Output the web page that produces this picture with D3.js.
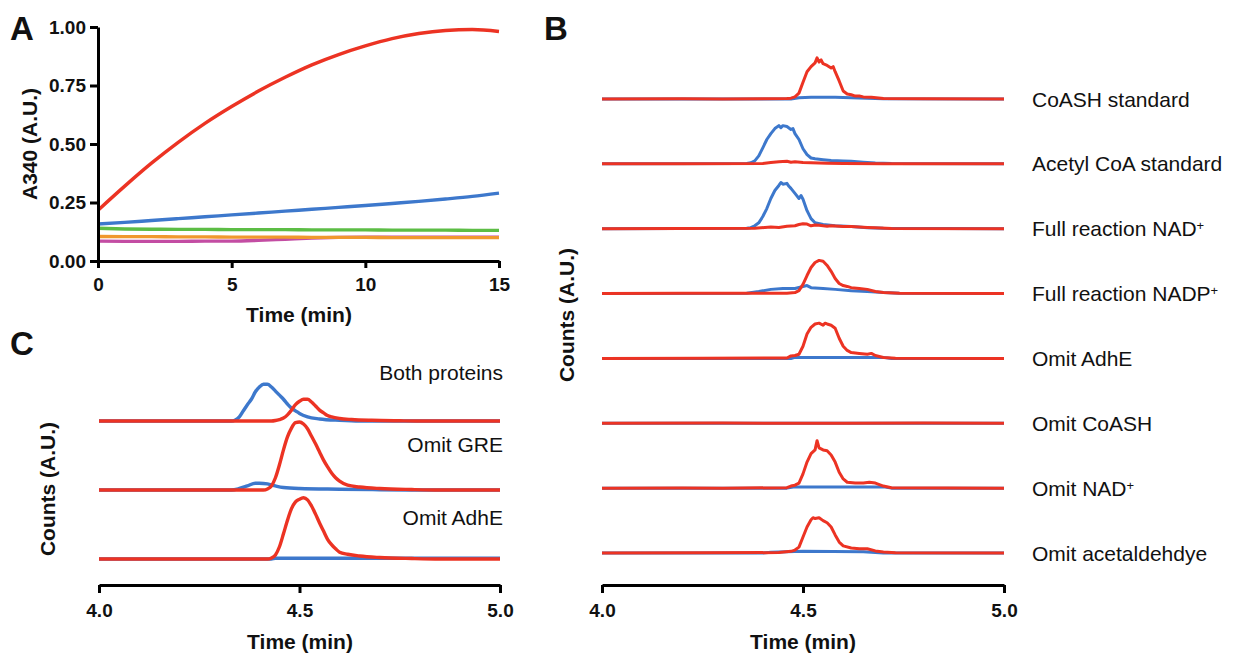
<!DOCTYPE html>
<html>
<head>
<meta charset="utf-8">
<script src="https://cdn.jsdelivr.net/npm/d3@7"></script>
<style>
body { margin: 0; background: #fff; }
text { font-family: "Liberation Sans", Arial, Helvetica, sans-serif; fill: #111; }
.axis path, .axis line { stroke: #000; stroke-width: 3; }
.axis text { font-size: 19px; font-weight: bold; font-family: "Liberation Sans", Arial, sans-serif; fill: #111; }
.title { font-size: 21px; font-weight: bold; }
.panel { font-size: 33px; font-weight: bold; }
.rowlabel { font-size: 21px; }
.trace { fill: none; stroke-linejoin: round; }
</style>
</head>
<body>
<svg id="fig" width="1239" height="660"></svg>
<script>

// ---- panel A : A340 over time
var timeA   = [0, 1, 2, 3, 4, 5, 6, 7, 8, 9, 10, 11, 12, 13, 14, 15];
var a340Red = [0.217, 0.32, 0.418, 0.507, 0.588, 0.66, 0.726, 0.785, 0.838, 0.882, 0.919, 0.95, 0.972, 0.985, 0.989, 0.981];
var a340Blue = [0.158, 0.165, 0.173, 0.181, 0.189, 0.197, 0.205, 0.213, 0.221, 0.229, 0.237, 0.246, 0.255, 0.265, 0.276, 0.29];
var a340Green = [0.14, 0.137, 0.136, 0.135, 0.135, 0.134, 0.134, 0.134, 0.133, 0.133, 0.133, 0.132, 0.132, 0.132, 0.131, 0.131];
var a340Orange = [0.105, 0.104, 0.104, 0.103, 0.103, 0.102, 0.102, 0.102, 0.101, 0.101, 0.101, 0.1, 0.1, 0.1, 0.1, 0.1];
var a340Pink = [0.085, 0.084, 0.084, 0.084, 0.085, 0.085, 0.088, 0.093, 0.098, 0.101, 0.102, 0.102, 0.102, 0.102, 0.102, 0.102];
var yTicksA = [0, 0.25, 0.5, 0.75, 1.0];
var xTicksA = [0, 5, 10, 15];

// ---- panel B : chromatograms [time, counts]
var bLabelText = ["CoASH standard", "Acetyl CoA standard", "Full reaction NAD", "Full reaction NADP",
                  "Omit AdhE", "Omit CoASH", "Omit NAD", "Omit acetaldehdye"];
var bLabelSup  = ["", "", "+", "+", "", "", "+", ""];

var bRed = [
  [[4.0,0],[4.2,0.5],[4.3,0],[4.46,1],[4.47,2],[4.48,5],[4.49,14],[4.5,40],[4.51,65],[4.52,77],[4.53,86],[4.535,98],[4.54,88],[4.545,93],[4.55,84],[4.56,80],[4.57,74],[4.575,77],[4.58,65],[4.59,43],[4.6,19],[4.61,12],[4.62,10],[4.63,7],[4.64,7],[4.65,5],[4.67,4],[4.7,1],[4.8,0.5],[5.0,0]],
  [[4.0,0],[4.2,0.5],[4.4,1],[4.42,3],[4.44,5],[4.46,6],[4.47,4],[4.48,5],[4.5,3],[4.52,2.4],[4.56,1.5],[4.6,1],[4.7,0.5],[5.0,0]],
  [[4.0,0],[4.2,0.5],[4.38,1],[4.42,4],[4.44,3],[4.46,6],[4.48,7],[4.49,10],[4.5,12],[4.51,11],[4.52,7],[4.53,9],[4.54,8],[4.56,6],[4.57,7],[4.6,5],[4.62,5],[4.64,4],[4.66,3],[4.68,2.4],[4.72,0.7],[5.0,0]],
  [[4.0,0],[4.2,0.5],[4.46,1],[4.48,2.4],[4.49,7],[4.5,22],[4.51,43],[4.52,62],[4.53,74],[4.54,79],[4.55,77],[4.56,67],[4.57,53],[4.58,36],[4.59,24],[4.6,19],[4.61,17],[4.62,14],[4.64,12],[4.66,10],[4.68,5],[4.7,2.4],[4.74,0.7],[5.0,0]],
  [[4.0,0],[4.25,0.5],[4.46,1],[4.47,6],[4.48,7],[4.49,10],[4.5,29],[4.51,58],[4.52,74],[4.53,82],[4.54,84],[4.55,79],[4.555,84],[4.56,82],[4.57,79],[4.58,72],[4.59,48],[4.6,29],[4.61,19],[4.62,14],[4.64,12],[4.66,10],[4.67,12],[4.68,7],[4.7,2.4],[4.73,0.7],[5.0,0]],
  [[4.0,0],[4.3,0.5],[4.6,0],[4.8,0.5],[5.0,0]],
  [[4.0,0],[4.2,0.5],[4.3,0],[4.46,1],[4.47,5],[4.48,7],[4.49,12],[4.5,34],[4.51,62],[4.52,82],[4.53,91],[4.535,113],[4.54,96],[4.55,91],[4.56,89],[4.57,79],[4.58,62],[4.59,38],[4.6,22],[4.61,14],[4.63,12],[4.65,12],[4.665,14],[4.68,12],[4.7,5],[4.72,1],[5.0,0]],
  [[4.0,0],[4.25,0.5],[4.44,1],[4.47,4],[4.48,7],[4.49,14],[4.5,38],[4.51,62],[4.52,79],[4.525,84],[4.53,82],[4.54,84],[4.55,77],[4.56,72],[4.57,62],[4.58,43],[4.59,26],[4.6,17],[4.62,12],[4.64,10],[4.66,10],[4.68,5],[4.7,2.4],[4.73,0.7],[5.0,0]]
];

var bBlue = [
  [[4.0,0],[4.47,0],[4.49,3],[4.52,4],[4.58,4],[4.62,3],[4.66,2],[4.7,0.5],[5.0,0]],
  [[4.0,0],[4.36,1],[4.37,2.4],[4.38,7],[4.39,19],[4.4,38],[4.41,58],[4.42,72],[4.43,84],[4.44,91],[4.445,86],[4.45,91],[4.46,89],[4.47,82],[4.475,84],[4.48,72],[4.49,58],[4.5,36],[4.51,22],[4.52,14],[4.53,12],[4.55,10],[4.57,8],[4.6,7],[4.62,6],[4.65,4],[4.68,2],[4.72,1],[5.0,0]],
  [[4.0,0],[4.36,1],[4.37,2.4],[4.38,7],[4.39,14],[4.4,29],[4.41,48],[4.42,72],[4.43,91],[4.44,103],[4.445,110],[4.45,106],[4.46,108],[4.465,101],[4.47,96],[4.48,84],[4.49,72],[4.495,79],[4.5,70],[4.51,43],[4.52,24],[4.53,14],[4.55,10],[4.58,7],[4.62,5],[4.66,2.4],[4.7,1],[5.0,0]],
  [[4.0,0],[4.36,1],[4.39,5],[4.42,10],[4.45,12],[4.48,12],[4.5,17],[4.51,19],[4.52,14],[4.55,12],[4.58,10],[4.62,7],[4.66,5],[4.7,2.4],[4.74,0.7],[5.0,0]],
  [[4.0,0],[4.47,0],[4.48,2.5],[4.7,2.5],[4.72,0],[5.0,0]],
  [[4.0,0],[5.0,0]],
  [[4.0,0],[4.46,0],[4.48,3],[4.7,3],[4.72,0],[5.0,0]],
  [[4.0,0],[4.4,0],[4.42,2],[4.5,4],[4.65,3],[4.7,0],[5.0,0]]
];

// ---- panel C : chromatograms [time, counts]
var cLabels = ["Both proteins", "Omit GRE", "Omit AdhE"];

var cRed = [
  [[4.0,0],[4.43,0],[4.44,0.7],[4.45,2.2],[4.46,4.4],[4.47,9],[4.48,16],[4.49,24],[4.5,29],[4.51,32],[4.52,32],[4.53,28],[4.54,22],[4.55,16],[4.56,12],[4.57,8],[4.58,6],[4.6,3.7],[4.63,2.2],[4.68,1],[4.75,0.3],[4.8,0],[5.0,0]],
  [[4.0,0],[4.41,0],[4.42,1.5],[4.43,6],[4.44,18],[4.45,37],[4.46,59],[4.47,78],[4.48,91],[4.49,99],[4.5,100],[4.51,97],[4.52,90],[4.53,79],[4.54,68],[4.55,56],[4.56,44],[4.57,34],[4.58,25],[4.59,18],[4.6,13],[4.62,7],[4.65,4.4],[4.7,2.2],[4.78,0.7],[4.85,0],[5.0,0]],
  [[4.0,0],[4.42,0],[4.43,1.5],[4.44,6],[4.45,18],[4.46,37],[4.47,57],[4.48,74],[4.49,84],[4.5,88],[4.51,90],[4.52,87],[4.53,78],[4.54,66],[4.55,53],[4.56,41],[4.57,29],[4.58,21],[4.59,15],[4.6,10],[4.62,7],[4.65,4.4],[4.7,2.2],[4.78,0.7],[4.85,0],[5.0,0]]
];

var cBlue = [
  [[4.0,0],[4.33,0],[4.34,1.5],[4.35,6],[4.36,15],[4.37,24],[4.38,32],[4.39,43],[4.4,50],[4.41,54],[4.42,54],[4.43,50],[4.44,44],[4.45,38],[4.46,32],[4.47,25],[4.48,19],[4.49,15],[4.5,11],[4.52,6],[4.55,3],[4.6,1],[4.65,0],[5.0,0]],
  [[4.0,0],[4.33,0],[4.35,2.2],[4.37,6],[4.39,10],[4.4,10],[4.42,9],[4.44,6],[4.46,3.7],[4.5,2.2],[4.6,1.2],[4.7,0.4],[4.8,0],[5.0,0]],
  [[4.0,0],[4.43,0],[4.44,1],[5.0,1]]
];

var xTicksBC = [4.0, 4.5, 5.0];

var red = "#ec3323", blue = "#3d78cc", green = "#5cbd45", orange = "#f0982e", pink = "#c34da3";

var svg = d3.select("#fig");

// ================= panel A
var xA = d3.scaleLinear().domain([0, 15]).range([98, 499]);
var yA = d3.scaleLinear().domain([0, 1]).range([261, 27]);

var lineA = d3.line()
    .x(function(d, i) { return xA(timeA[i]); })
    .y(function(d) { return yA(d); })
    .curve(d3.curveMonotoneX);

var seriesA = [
    {vals: a340Pink, color: pink},
    {vals: a340Orange, color: orange},
    {vals: a340Green, color: green},
    {vals: a340Blue, color: blue},
    {vals: a340Red, color: red}
];

svg.selectAll(".lineA")
    .data(seriesA)
    .enter()
    .append("path")
    .attr("class", "trace lineA")
    .attr("d", function(d) { return lineA(d.vals); })
    .attr("stroke", function(d) { return d.color; })
    .attr("stroke-width", 3.4);

svg.append("g")
    .attr("class", "axis")
    .attr("transform", "translate(98,0)")
    .call(d3.axisLeft(yA).tickValues(yTicksA).tickFormat(d3.format(".2f")).tickSize(8).tickSizeOuter(0).tickPadding(4));

svg.append("g")
    .attr("class", "axis")
    .attr("transform", "translate(0,261)")
    .call(d3.axisBottom(xA).tickValues(xTicksA).tickFormat(d3.format("d")).tickSize(7).tickSizeOuter(0).tickPadding(10));

svg.append("text").attr("class", "title")
    .attr("x", 299).attr("y", 322).attr("text-anchor", "middle")
    .text("Time (min)");

svg.append("text").attr("class", "title")
    .attr("transform", "translate(37,144) rotate(-90)")
    .attr("text-anchor", "middle")
    .text("A340 (A.U.)");

// ================= panel B
var xB = d3.scaleLinear().domain([4.0, 5.0]).range([602, 1004]);
var rowB = d3.scalePoint().domain(d3.range(bLabelText.length)).range([99, 553]);
var countsB = d3.scaleLinear().domain([0, 100]).range([0, -42]);

var lineB = d3.line()
    .x(function(d) { return xB(d[0]); })
    .y(function(d) { return countsB(d[1]); });

var rowsB = svg.selectAll(".rowB")
    .data(bLabelText)
    .enter()
    .append("g")
    .attr("class", "rowB")
    .attr("transform", function(d, i) { return "translate(0," + rowB(i) + ")"; });

rowsB.append("path")
    .attr("class", "trace")
    .attr("d", function(d, i) { return lineB(bBlue[i]); })
    .attr("stroke", blue)
    .attr("stroke-width", 3);

rowsB.append("path")
    .attr("class", "trace")
    .attr("d", function(d, i) { return lineB(bRed[i]); })
    .attr("stroke", red)
    .attr("stroke-width", 3);

var labB = rowsB.append("text")
    .attr("class", "rowlabel")
    .attr("x", 1032)
    .attr("dy", "0.36em");
labB.append("tspan").text(function(d) { return d; });
labB.append("tspan")
    .attr("dy", "-0.45em")
    .style("font-size", "13px")
    .text(function(d, i) { return bLabelSup[i]; });

svg.append("g")
    .attr("class", "axis")
    .attr("transform", "translate(0,585)")
    .call(d3.axisBottom(xB).tickValues(xTicksBC).tickFormat(d3.format(".1f")).tickSize(8).tickSizeOuter(0).tickPadding(11));

svg.append("text").attr("class", "title")
    .attr("x", 803).attr("y", 649).attr("text-anchor", "middle")
    .text("Time (min)");

svg.append("text").attr("class", "title")
    .attr("transform", "translate(574,315) rotate(-90)")
    .attr("text-anchor", "middle")
    .text("Counts (A.U.)");

// ================= panel C
var xC = d3.scaleLinear().domain([4.0, 5.0]).range([99, 500]);
var rowC = d3.scalePoint().domain(d3.range(cLabels.length)).range([421, 559]);
var labelRowC = d3.scalePoint().domain(d3.range(cLabels.length)).range([372, 517]);
var countsC = d3.scaleLinear().domain([0, 100]).range([0, -68]);

var lineC = d3.line()
    .x(function(d) { return xC(d[0]); })
    .y(function(d) { return countsC(d[1]); })
    .curve(d3.curveMonotoneX);

var rowsC = svg.selectAll(".rowC")
    .data(cLabels)
    .enter()
    .append("g")
    .attr("class", "rowC")
    .attr("transform", function(d, i) { return "translate(0," + rowC(i) + ")"; });

rowsC.append("path")
    .attr("class", "trace")
    .attr("d", function(d, i) { return lineC(cBlue[i]); })
    .attr("stroke", blue)
    .attr("stroke-width", 3.4);

rowsC.append("path")
    .attr("class", "trace")
    .attr("d", function(d, i) { return lineC(cRed[i]); })
    .attr("stroke", red)
    .attr("stroke-width", 3.4);

svg.selectAll(".labC")
    .data(cLabels)
    .enter()
    .append("text")
    .attr("class", "rowlabel labC")
    .attr("x", 503)
    .attr("y", function(d, i) { return labelRowC(i); })
    .attr("dy", "0.36em")
    .attr("text-anchor", "end")
    .text(function(d) { return d; });

svg.append("g")
    .attr("class", "axis")
    .attr("transform", "translate(0,585)")
    .call(d3.axisBottom(xC).tickValues(xTicksBC).tickFormat(d3.format(".1f")).tickSize(8).tickSizeOuter(0).tickPadding(11));

svg.append("text").attr("class", "title")
    .attr("x", 300).attr("y", 649).attr("text-anchor", "middle")
    .text("Time (min)");

svg.append("text").attr("class", "title")
    .attr("transform", "translate(55,489) rotate(-90)")
    .attr("text-anchor", "middle")
    .text("Counts (A.U.)");

// panel letters
svg.append("text").attr("class", "panel").attr("x", 10).attr("y", 40).text("A");
svg.append("text").attr("class", "panel").attr("x", 544).attr("y", 40).text("B");
svg.append("text").attr("class", "panel").attr("x", 10).attr("y", 355).text("C");

</script>
</body>
</html>
